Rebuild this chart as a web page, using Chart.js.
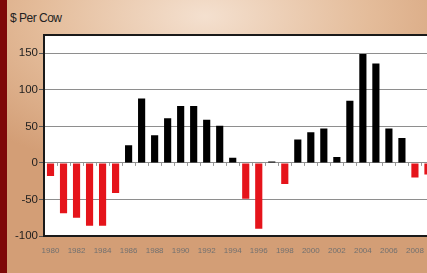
<!DOCTYPE html>
<html>
<head>
<meta charset="utf-8">
<script src="https://cdn.jsdelivr.net/npm/chart.js@4"></script>
<style>
html,body{margin:0;padding:0;width:427px;height:273px;overflow:hidden;}
body{position:relative;background:radial-gradient(ellipse 70% 60% at 48% 6%, #f4e0cf 0%, #e4bc9a 55%, #d39e76 100%);font-family:"Liberation Sans",Arial,sans-serif;}
#strip{position:absolute;left:0;top:0;width:7px;height:273px;background:#7e0808;}
#ylab{position:absolute;left:10px;top:11px;font-size:12px;color:#222;letter-spacing:-0.5px;}
#wrap{position:absolute;left:0;top:0;width:438px;height:273px;}
</style>
</head>
<body>
<div id="strip"></div>
<div id="ylab">$ Per Cow</div>
<div id="wrap"><canvas id="c" width="438" height="273"></canvas></div>
<script>
const years = ["1980","1981","1982","1983","1984","1985","1986","1987","1988","1989","1990","1991","1992","1993","1994","1995","1996","1997","1998","1999","2000","2001","2002","2003","2004","2005","2006","2007","2008","2009"];
const returnsPerCow = [-18,-69,-75,-86,-86,-41,24,88,38,61,78,78,59,51,7,-49,-90,2,-29,32,42,47,8,85,149,136,47,34,-20,-16];
const yTicks = [-100,-50,0,50,100,150];

const frame = {
  id:'frame',
  beforeDraw(chart){
    const {ctx, chartArea:a} = chart;
    ctx.save(); ctx.fillStyle='#ffffff';
    ctx.fillRect(a.left,a.top,a.right-a.left,a.bottom-a.top); ctx.restore();
  },
  afterDatasetsDraw(chart){
    const {ctx, chartArea:a, scales} = chart;
    const x = scales.x, y = scales.y;
    const y0 = y.getPixelForValue(0);
    ctx.save();
    ctx.strokeStyle='#9a9a9a'; ctx.lineWidth=1;
    for(let i=0;i<=years.length;i++){
      const px = Math.round(x.getPixelForValue(i) - (x.getPixelForValue(1)-x.getPixelForValue(0))/2)+0.5;
      ctx.beginPath(); ctx.moveTo(px,y0); ctx.lineTo(px,y0+3); ctx.stroke();
    }
    ctx.strokeStyle='#1a1a1a'; ctx.lineWidth=2;
    ctx.beginPath();
    ctx.moveTo(a.right,a.top); ctx.lineTo(a.left,a.top); ctx.lineTo(a.left,a.bottom); ctx.lineTo(a.right,a.bottom);
    ctx.stroke();
    ctx.restore();
  }
};

new Chart(document.getElementById('c'), {
  type:'bar',
  data:{
    labels:years,
    datasets:[{
      data:returnsPerCow,
      backgroundColor:returnsPerCow.map(v=>v<0?'#e5141b':'#000000'),
      barPercentage:0.55,
      categoryPercentage:1.0
    }]
  },
  options:{
    responsive:false,
    animation:false,
    layout:{padding:{top:35,right:3,bottom:0,left:0}},
    plugins:{legend:{display:false},tooltip:{enabled:false}},
    scales:{
      x:{
        grid:{display:false,drawTicks:false},
        border:{display:false},
        afterFit(s){s.height=37;},
        ticks:{
          autoSkip:false,maxRotation:0,padding:10,
          color:'#707070',
          font:{family:'"Liberation Sans", Arial, sans-serif',size:8},
          callback(v,i){return i%2===0?years[i]:'';}
        }
      },
      y:{
        min:-100,max:175,
        afterFit(s){s.width=44;},
        afterBuildTicks(s){s.ticks=yTicks.map(v=>({value:v}));},
        grid:{color:'#8e8e8e',lineWidth:1,tickLength:5,tickColor:'#555'},
        border:{display:false},
        ticks:{
          padding:1,color:'#1e1e1e',
          font:{family:'"Liberation Sans", Arial, sans-serif',size:11.5}
        }
      }
    }
  },
  plugins:[frame]
});
</script>
</body>
</html>
